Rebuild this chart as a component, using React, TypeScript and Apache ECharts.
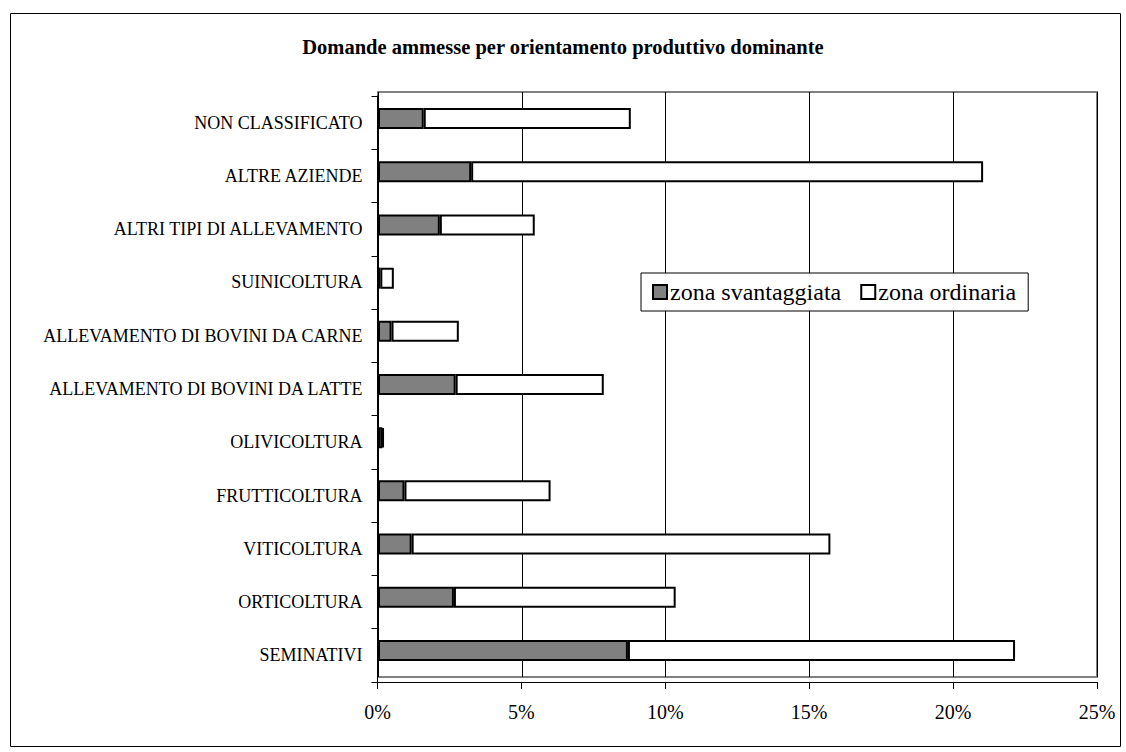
import React, { useEffect, useRef } from "react";
import * as echarts from "echarts";

// Categories listed bottom -> top (ECharts category y-axis order)
const categories = [
  "SEMINATIVI",
  "ORTICOLTURA",
  "VITICOLTURA",
  "FRUTTICOLTURA",
  "OLIVICOLTURA",
  "ALLEVAMENTO DI BOVINI DA LATTE",
  "ALLEVAMENTO DI BOVINI DA CARNE",
  "SUINICOLTURA",
  "ALTRI TIPI DI ALLEVAMENTO",
  "ALTRE AZIENDE",
  "NON CLASSIFICATO",
];

// Values in percent
const zonaSvantaggiata = [8.69, 2.64, 1.17, 0.92, 0.15, 2.7, 0.47, 0.08, 2.15, 3.24, 1.59];
const zonaOrdinaria = [13.46, 7.71, 14.56, 5.08, 0.05, 5.15, 2.34, 0.47, 3.3, 17.8, 7.2];

const xTicks = { min: 0, max: 25, interval: 5 };

const titleText = "Domande ammesse per orientamento produttivo dominante";
const seriesNames = ["zona svantaggiata", "zona ordinaria"];

const FONT = '"Liberation Serif", "Times New Roman", serif';

export default function App() {
  const ref = useRef<HTMLDivElement>(null);

  useEffect(() => {
    if (!ref.current) return;
    const chart = echarts.init(ref.current, undefined, { renderer: "svg" });
    chart.setOption({
      animation: false,
      backgroundColor: "#ffffff",
      textStyle: { fontFamily: FONT, color: "#000" },
      title: {
        text: titleText,
        left: "center",
        top: 31,
        textStyle: { fontFamily: FONT, fontSize: 20.5, fontWeight: "bold", color: "#000" },
      },
      legend: {
        left: 641,
        top: 273,
        orient: "horizontal",
        backgroundColor: "#fff",
        borderColor: "#000",
        borderWidth: 1,
        padding: [7, 12, 7, 11],
        itemWidth: 14,
        itemHeight: 14,
        itemGap: 19,
        icon: "rect",
        textStyle: { fontFamily: FONT, fontSize: 24, color: "#000", padding: [0, 0, 0, -2] },
        data: [
          { name: seriesNames[0], itemStyle: { color: "#808080", borderColor: "#000", borderWidth: 2 } },
          { name: seriesNames[1], itemStyle: { color: "#ffffff", borderColor: "#000", borderWidth: 2 } },
        ],
      },
      graphic: [
        {
          type: "rect",
          left: 8,
          top: 11,
          shape: { x: 0, y: 0, width: 1110, height: 733 },
          style: { fill: "none", stroke: "#000", lineWidth: 1 },
          z: -10,
          silent: true,
        },
      ],
      grid: [
        {
          left: 378,
          right: 29,
          top: 92,
          bottom: 75,
          show: true,
          borderColor: "#808080",
          borderWidth: 2,
          backgroundColor: "transparent",
        },
        {
          left: 377.5,
          right: 29,
          top: 96,
          bottom: 70,
        },
      ],
      xAxis: [
        {
          gridIndex: 0,
          type: "value",
          min: xTicks.min,
          max: xTicks.max,
          interval: xTicks.interval,
          axisLine: { show: false },
          axisTick: { show: false },
          axisLabel: { show: false },
          splitLine: { show: true, lineStyle: { color: "#000", width: 1 } },
        },
        {
          gridIndex: 1,
          type: "value",
          min: xTicks.min,
          max: xTicks.max,
          interval: xTicks.interval,
          axisLine: { show: true, lineStyle: { color: "#000", width: 1 } },
          axisTick: { show: true, length: 7, lineStyle: { color: "#000" } },
          axisLabel: {
            show: true,
            formatter: "{value}%",
            fontFamily: FONT,
            fontSize: 20,
            color: "#000",
            margin: 20,
          },
          splitLine: { show: false },
        },
      ],
      yAxis: [
        {
          gridIndex: 0,
          type: "category",
          data: categories,
          show: false,
        },
        {
          gridIndex: 1,
          type: "category",
          data: categories,
          axisLine: { show: true, lineStyle: { color: "#000", width: 1 } },
          axisTick: { show: true, length: 6, lineStyle: { color: "#000" } },
          axisLabel: {
            show: true,
            fontFamily: FONT,
            fontSize: 18,
            color: "#000",
            margin: 15,
          },
          splitLine: { show: false },
        },
      ],
      series: [
        {
          name: seriesNames[0],
          type: "bar",
          stack: "total",
          xAxisIndex: 0,
          yAxisIndex: 0,
          barWidth: 21,
          data: zonaSvantaggiata,
          itemStyle: { color: "#808080", borderColor: "#000", borderWidth: 2 },
        },
        {
          name: seriesNames[1],
          type: "bar",
          stack: "total",
          xAxisIndex: 0,
          yAxisIndex: 0,
          barWidth: 21,
          data: zonaOrdinaria,
          itemStyle: { color: "#ffffff", borderColor: "#000", borderWidth: 2 },
        },
      ],
    });
    return () => chart.dispose();
  }, []);

  return (
    <div
      ref={ref}
      style={{ position: "fixed", left: 0, top: 0, width: 1126, height: 752 }}
    />
  );
}
